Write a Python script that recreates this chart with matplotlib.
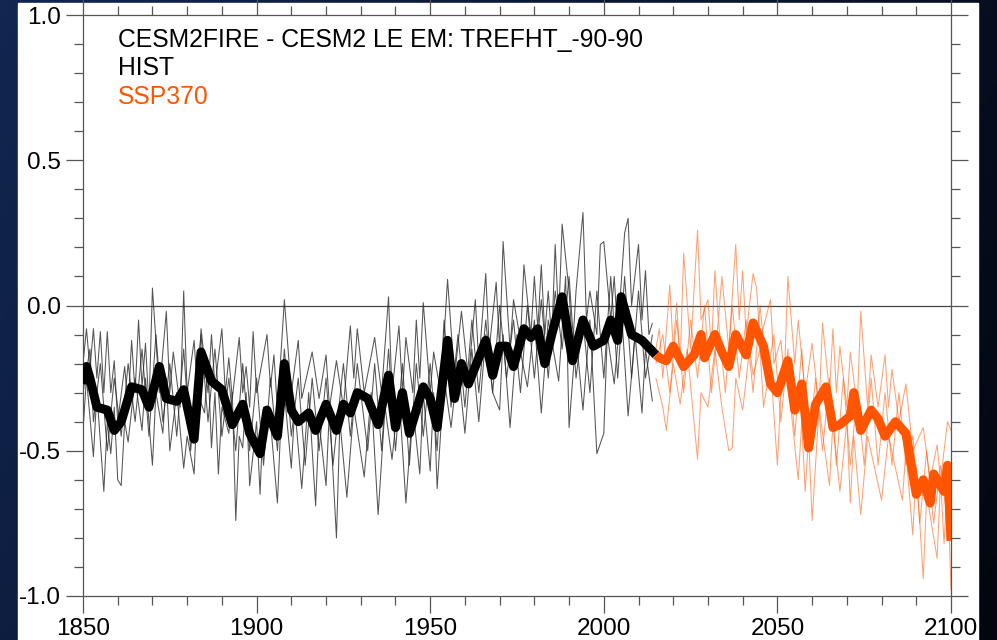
import numpy as np
import matplotlib.pyplot as plt
from matplotlib.colors import LinearSegmentedColormap
from matplotlib.patches import Rectangle
from matplotlib.ticker import MultipleLocator

plt.rcParams['font.family'] = ['Liberation Sans', 'DejaVu Sans']

title_lines = ["CESM2FIRE - CESM2 LE EM: TREFHT_-90-90", "HIST", "SSP370"]
xlim = (1850, 2100)
ylim = (-1.0, 1.0)

# ensemble mean
hist_mean = [(1850, -0.27), (1851, -0.21), (1852, -0.25), (1854, -0.35), (1857, -0.36),
             (1859, -0.43), (1861, -0.40), (1864, -0.28), (1867, -0.29), (1869, -0.35),
             (1872, -0.21), (1874, -0.32), (1877, -0.33), (1879, -0.29), (1882, -0.46),
             (1884, -0.16), (1887, -0.26), (1890, -0.29), (1893, -0.41), (1896, -0.34),
             (1898, -0.44), (1901, -0.51), (1903, -0.36), (1906, -0.45), (1908, -0.20),
             (1910, -0.36), (1912, -0.40), (1915, -0.37), (1917, -0.43), (1920, -0.34),
             (1923, -0.43), (1925, -0.34), (1927, -0.37), (1929, -0.30), (1932, -0.32),
             (1935, -0.41), (1938, -0.24), (1940, -0.42), (1942, -0.30), (1944, -0.44),
             (1948, -0.28), (1950, -0.32), (1952, -0.42), (1955, -0.12), (1957, -0.32),
             (1959, -0.20), (1961, -0.27), (1966, -0.12), (1968, -0.24), (1970, -0.14),
             (1972, -0.14), (1974, -0.21), (1977, -0.08), (1979, -0.11), (1981, -0.08),
             (1983, -0.20), (1985, -0.10), (1988, 0.03), (1990, -0.12), (1991, -0.19),
             (1994, -0.05), (1997, -0.14), (2000, -0.12), (2002, -0.05), (2004, -0.12),
             (2005, 0.03), (2008, -0.10), (2011, -0.12), (2015, -0.17)]

ssp_mean = [(2015, -0.17), (2016, -0.18), (2018, -0.19), (2020, -0.14), (2023, -0.21),
            (2026, -0.17), (2028, -0.10), (2029, -0.18), (2032, -0.10), (2034, -0.16),
            (2036, -0.21), (2038, -0.10), (2041, -0.17), (2043, -0.06), (2046, -0.14),
            (2048, -0.27), (2050, -0.30), (2053, -0.19), (2055, -0.36), (2057, -0.27),
            (2059, -0.49), (2061, -0.34), (2064, -0.28), (2066, -0.42), (2068, -0.41),
            (2071, -0.38), (2072, -0.30), (2074, -0.43), (2077, -0.36), (2079, -0.39),
            (2081, -0.45), (2084, -0.40), (2087, -0.44), (2088, -0.51), (2090, -0.65),
            (2092, -0.60), (2094, -0.68), (2095, -0.58), (2098, -0.64), (2099, -0.55),
            (2100, -0.81)]

# individual members (thin lines)
hist_m1 = [(1850, -0.20), (1851, -0.08), (1852, -0.22), (1853, -0.08), (1854, -0.25), (1855, -0.09),
           (1856, -0.30), (1857, -0.09), (1858, -0.30), (1859, -0.19), (1860, -0.40), (1862, -0.21),
           (1863, -0.35), (1864, -0.12), (1865, -0.30), (1866, -0.05), (1867, -0.28), (1868, -0.13),
           (1869, -0.35), (1870, 0.06), (1872, -0.30), (1874, -0.02), (1875, -0.30), (1876, -0.16),
           (1878, -0.35), (1879, 0.05), (1880, -0.30), (1882, -0.12), (1883, -0.30), (1884, -0.08),
           (1886, -0.30), (1887, -0.10), (1888, -0.28), (1890, -0.08), (1891, -0.30), (1892, -0.18),
           (1893, -0.32), (1895, -0.11), (1896, -0.30), (1897, -0.21), (1898, -0.35), (1899, -0.09),
           (1900, -0.30), (1903, -0.10), (1904, -0.28), (1905, -0.17), (1906, -0.36), (1908, 0.02),
           (1910, -0.30), (1912, -0.12), (1913, -0.32), (1916, -0.16), (1918, -0.32), (1920, -0.17),
           (1921, -0.35), (1923, -0.19), (1925, -0.35), (1927, -0.07), (1928, -0.25), (1929, -0.08),
           (1931, -0.30), (1934, -0.11), (1936, -0.30), (1938, 0.03), (1939, -0.30), (1941, -0.07),
           (1942, -0.30), (1943, -0.11), (1945, -0.30), (1946, -0.05), (1947, -0.25), (1948, 0.01),
           (1950, -0.30), (1951, -0.16), (1953, -0.30), (1955, 0.09), (1957, -0.25), (1959, -0.02),
           (1961, -0.25), (1963, 0.02), (1964, -0.20), (1966, 0.11), (1967, -0.15), (1969, 0.08),
           (1970, -0.15), (1971, 0.22), (1973, -0.15), (1974, 0.02), (1976, -0.12), (1977, 0.14),
           (1979, -0.10), (1980, 0.10), (1981, -0.08), (1982, 0.14), (1983, -0.10), (1984, 0.05),
           (1985, -0.12), (1986, 0.21), (1987, -0.05), (1988, 0.28), (1990, 0.05), (1991, -0.15),
           (1992, 0.05), (1994, 0.32), (1995, -0.05), (1996, 0.05), (1998, -0.10), (1999, 0.21),
           (2000, 0.22), (2002, -0.05), (2003, 0.10), (2004, -0.10), (2006, 0.25), (2007, 0.30),
           (2008, 0.00), (2010, 0.21), (2011, -0.05), (2012, 0.12), (2013, -0.10), (2014, -0.06)]

hist_m2 = [(1850, -0.43), (1851, -0.25), (1853, -0.52), (1854, -0.30), (1856, -0.64), (1857, -0.40),
           (1858, -0.51), (1859, -0.35), (1860, -0.60), (1861, -0.62), (1862, -0.40), (1863, -0.47),
           (1865, -0.25), (1867, -0.43), (1868, -0.25), (1870, -0.55), (1871, -0.30), (1873, -0.44),
           (1874, -0.25), (1875, -0.50), (1877, -0.30), (1879, -0.56), (1880, -0.45), (1882, -0.58),
           (1883, -0.30), (1885, -0.37), (1886, -0.20), (1887, -0.49), (1888, -0.30), (1889, -0.58),
           (1890, -0.35), (1892, -0.44), (1893, -0.30), (1894, -0.74), (1895, -0.45), (1896, -0.49),
           (1897, -0.30), (1898, -0.62), (1900, -0.40), (1901, -0.65), (1902, -0.35), (1904, -0.40),
           (1906, -0.68), (1907, -0.40), (1908, -0.30), (1910, -0.56), (1911, -0.35), (1913, -0.63),
           (1915, -0.30), (1917, -0.69), (1918, -0.40), (1920, -0.62), (1921, -0.35), (1923, -0.80),
           (1924, -0.40), (1926, -0.66), (1928, -0.35), (1931, -0.59), (1933, -0.30), (1935, -0.72),
           (1937, -0.35), (1939, -0.53), (1941, -0.30), (1943, -0.68), (1945, -0.35), (1947, -0.58),
           (1948, -0.30), (1950, -0.57), (1951, -0.30), (1952, -0.63), (1954, -0.25), (1956, -0.42),
           (1958, -0.20), (1960, -0.44), (1962, -0.15), (1964, -0.40), (1966, -0.10), (1968, -0.30),
           (1970, -0.36), (1971, -0.10), (1973, -0.42), (1975, -0.10), (1978, -0.28), (1980, -0.05),
           (1982, -0.37), (1984, -0.05), (1987, -0.26), (1989, 0.10), (1990, -0.42), (1992, -0.10),
           (1994, -0.36), (1996, -0.05), (1998, -0.51), (2000, -0.44), (2001, -0.10), (2003, -0.27),
           (2005, 0.00), (2007, -0.38), (2009, -0.10), (2011, -0.37), (2012, -0.15), (2014, -0.33)]

hist_m3 = [(1850, -0.30), (1852, -0.15), (1853, -0.40), (1855, -0.20), (1857, -0.50), (1859, -0.25),
           (1861, -0.45), (1863, -0.20), (1865, -0.40), (1867, -0.15), (1869, -0.45), (1871, -0.10),
           (1873, -0.40), (1875, -0.20), (1877, -0.45), (1879, -0.15), (1881, -0.50), (1884, -0.10),
           (1886, -0.40), (1888, -0.15), (1890, -0.45), (1892, -0.25), (1894, -0.50), (1896, -0.20),
           (1898, -0.50), (1900, -0.25), (1902, -0.55), (1904, -0.25), (1906, -0.50), (1908, -0.15),
           (1910, -0.45), (1912, -0.25), (1914, -0.55), (1916, -0.25), (1918, -0.50), (1920, -0.25),
           (1922, -0.55), (1925, -0.20), (1927, -0.45), (1929, -0.20), (1932, -0.50), (1934, -0.20),
           (1936, -0.50), (1938, -0.15), (1940, -0.50), (1942, -0.20), (1944, -0.55), (1946, -0.20),
           (1948, -0.45), (1950, -0.20), (1952, -0.50), (1954, -0.05), (1956, -0.35), (1958, -0.10),
           (1960, -0.35), (1962, -0.05), (1964, -0.30), (1966, -0.05), (1968, -0.30), (1970, 0.00),
           (1972, -0.25), (1974, -0.05), (1976, -0.30), (1978, 0.00), (1980, -0.25), (1982, 0.02),
           (1984, -0.25), (1986, 0.05), (1988, -0.15), (1990, 0.10), (1992, -0.25), (1994, -0.05),
           (1996, -0.30), (1998, 0.05), (2000, -0.25), (2002, 0.10), (2004, -0.25), (2006, 0.10),
           (2008, -0.25), (2010, 0.05), (2012, -0.25), (2014, -0.10)]

ssp_m1 = [(2015, -0.15), (2016, -0.08), (2017, -0.25), (2019, 0.07), (2020, -0.15), (2021, 0.01),
          (2022, -0.20), (2023, 0.18), (2025, -0.15), (2027, 0.26), (2028, -0.05), (2030, 0.02),
          (2031, -0.15), (2032, 0.12), (2033, -0.05), (2034, 0.10), (2036, -0.15), (2038, 0.21),
          (2039, -0.05), (2040, 0.12), (2041, -0.10), (2043, 0.11), (2044, 0.06), (2045, -0.12),
          (2048, 0.02), (2049, -0.20), (2051, -0.12), (2052, -0.25), (2053, 0.10), (2055, -0.20),
          (2056, -0.05), (2058, -0.30), (2060, -0.13), (2062, -0.35), (2063, -0.06), (2065, -0.30),
          (2066, -0.08), (2067, -0.30), (2068, -0.14), (2070, -0.35), (2071, -0.16), (2073, -0.35),
          (2074, -0.02), (2076, -0.35), (2077, -0.17), (2079, -0.35), (2081, -0.17), (2082, -0.35),
          (2083, -0.22), (2085, -0.40), (2087, -0.27), (2089, -0.50), (2092, -0.42), (2094, -0.60),
          (2096, -0.48), (2097, -0.60), (2099, -0.40), (2100, -0.43)]

ssp_m2 = [(2015, -0.25), (2017, -0.35), (2018, -0.43), (2020, -0.20), (2022, -0.34), (2024, -0.15),
          (2027, -0.53), (2028, -0.30), (2030, -0.35), (2032, -0.15), (2034, -0.35), (2036, -0.50),
          (2037, -0.49), (2038, -0.25), (2040, -0.36), (2042, -0.15), (2043, -0.24), (2045, -0.15),
          (2046, -0.35), (2048, -0.20), (2050, -0.55), (2051, -0.30), (2053, -0.25), (2056, -0.60),
          (2057, -0.40), (2058, -0.64), (2059, -0.45), (2060, -0.74), (2062, -0.35), (2065, -0.62),
          (2066, -0.40), (2068, -0.64), (2070, -0.40), (2071, -0.68), (2072, -0.45), (2074, -0.72),
          (2076, -0.45), (2080, -0.67), (2082, -0.45), (2086, -0.67), (2087, -0.50), (2089, -0.79),
          (2090, -0.55), (2092, -0.94), (2093, -0.65), (2096, -0.87), (2097, -0.60), (2098, -0.82),
          (2099, -0.60), (2100, -0.98)]

ssp_m3 = [(2015, -0.20), (2017, -0.10), (2019, -0.30), (2021, -0.05), (2023, -0.30), (2025, -0.05),
          (2027, -0.25), (2029, 0.00), (2031, -0.30), (2033, -0.05), (2035, -0.30), (2037, 0.00),
          (2039, -0.25), (2041, -0.05), (2043, -0.30), (2045, 0.00), (2047, -0.25), (2049, -0.10),
          (2051, -0.40), (2053, -0.15), (2055, -0.45), (2057, -0.15), (2059, -0.50), (2061, -0.25),
          (2063, -0.50), (2065, -0.25), (2067, -0.55), (2069, -0.25), (2071, -0.55), (2073, -0.30),
          (2075, -0.55), (2077, -0.25), (2079, -0.55), (2081, -0.30), (2083, -0.55), (2085, -0.30),
          (2087, -0.55), (2089, -0.45), (2091, -0.75), (2093, -0.50), (2095, -0.75), (2097, -0.55),
          (2099, -0.75), (2100, -0.60)]

hist_color = "black"
ssp_color = "#ff5400"

fig = plt.figure(figsize=(9.97, 6.4), dpi=100)

# dark blue slide background with a white panel
bg = fig.add_axes([0, 0, 1, 1], zorder=-10)
cmap = LinearSegmentedColormap.from_list("bg", ["#112650", "#0a1632", "#03060e"])
gx, gy = np.meshgrid(np.linspace(0, 1, 200), np.linspace(0, 1, 130))
bg.imshow(0.75 * gx + 0.25 * gy, cmap=cmap, aspect="auto", extent=(0, 1, 0, 1))
bg.add_patch(Rectangle((18 / 997, 0), 960 / 997, 637 / 640, color="white"))
bg.set_xlim(0, 1)
bg.set_ylim(0, 1)
bg.axis("off")

ax = fig.add_axes([83 / 997, 1 - 596 / 640, 868 / 997, 581 / 640])
ax.set_facecolor("white")

def draw(series, color, lw, alpha=1.0, z=2):
    xs, ys = zip(*series)
    ax.plot(xs, ys, color=color, lw=lw, alpha=alpha, zorder=z,
            solid_joinstyle="round", solid_capstyle="butt")

for m in (hist_m1, hist_m2, hist_m3):
    draw(m, "#2a2a2a", 0.75, 0.8)
for m in (ssp_m1, ssp_m2, ssp_m3):
    draw(m, ssp_color, 0.75, 0.55)
draw(hist_mean, hist_color, 6.5, z=4)
draw(ssp_mean, ssp_color, 6.5, z=4)

ax.axhline(0, color="#444444", lw=0.9, zorder=1)

ax.set_xlim(*xlim)
ax.set_ylim(*ylim)
ax.xaxis.set_major_locator(MultipleLocator(50))
ax.xaxis.set_minor_locator(MultipleLocator(10))
ax.yaxis.set_major_locator(MultipleLocator(0.5))
ax.yaxis.set_minor_locator(MultipleLocator(0.1))
ax.yaxis.set_major_formatter(plt.FuncFormatter(lambda v, p: f"{v:.1f}"))
ax.tick_params(which="both", direction="out", top=True, right=True,
               color="#555555", width=0.9, labelsize=17.5, labelcolor="black")
ax.tick_params(which="major", length=12.2, pad=3.5)
ax.tick_params(which="minor", length=6.3)
for s in ax.spines.values():
    s.set_color("#555555")
    s.set_linewidth(0.9)

colors = ["black", "black", ssp_color]
baselines = [46.5, 75, 103.5]
for txt, c, b in zip(title_lines, colors, baselines):
    fig.text(118 / 997, 1 - b / 640, txt, color=c, fontsize=17.8, va="baseline", ha="left")

fig.savefig("out.png", dpi=100)
